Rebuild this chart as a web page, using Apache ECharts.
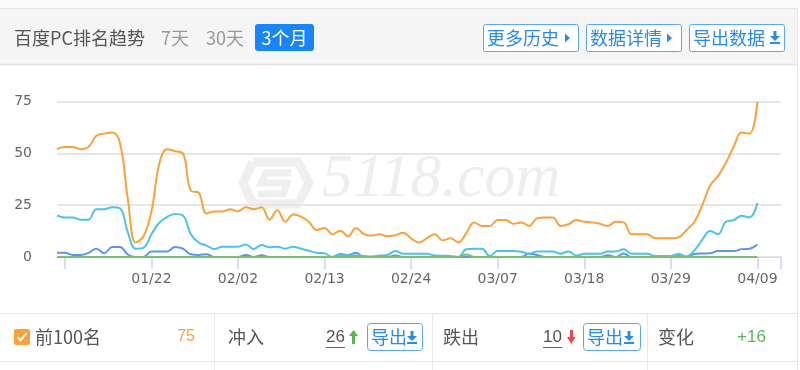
<!DOCTYPE html>
<html><head><meta charset="utf-8">
<script src="https://cdn.jsdelivr.net/npm/echarts@6/dist/echarts.min.js"></script>
<style>html,body{margin:0;padding:0;background:#fff}#c{width:800px;height:370px}</style>
</head><body><div id="c"></div>
<script>
// ---- data ----
const categories = [
'01/10','01/11','01/12','01/13','01/14','01/15','01/16','01/17','01/18','01/19','01/20','01/21','01/22','01/23','01/24','01/25','01/26','01/27','01/28','01/29','01/30','01/31',
'02/01','02/02','02/03','02/04','02/05','02/06','02/07','02/08','02/09','02/10','02/11','02/12','02/13','02/14','02/15','02/16','02/17','02/18','02/19','02/20','02/21','02/22','02/23','02/24','02/25','02/26','02/27','02/28',
'03/01','03/02','03/03','03/04','03/05','03/06','03/07','03/08','03/09','03/10','03/11','03/12','03/13','03/14','03/15','03/16','03/17','03/18','03/19','03/20','03/21','03/22','03/23','03/24','03/25','03/26','03/27','03/28','03/29','03/30','03/31',
'04/01','04/02','04/03','04/04','04/05','04/06','04/07','04/08','04/09','04/10','04/11','04/12'];
const xTickLabels = ['01/22','02/02','02/13','02/24','03/07','03/18','03/29','04/09'];
const yTicks = [0, 25, 50, 75];
const top100 = [52,53,53,52,53,58.5,59.5,60,55,28, 7,10,22,45,52,51,50,32,31,21,
  22,22,23,22,24,23,24,18,22.5,17, 20.5,19.5,17,13,14,11,12.7,10,14,11,
  10.3,11,10,10.5,11.7,9,7,9,11,8, 9,7,11.5,16.7,15,15,17.8,17.8,16,16.7,
  15,18.7,19,19,15,15.8,17.8,17,16.7,16, 15,17,16.7,11,11,11,9,9,9,9.5,
  13,17,25,34.5,39,45.5,53.3,60,59.5,75];
const top50 = [20,19,19,18,18,23,23,24,23.5,12, 4,4.5,11,16.5,19.4,20.7,20,11,7,5.5,
  3.8,5,5,5,6,3.8,5.8,4.7,5,4, 5,4,3,2,1.8,0,1,0.8,0.7,0.5,
  0.3,0.7,1,2.9,1.6,1.6,1.6,1.6,0.7,0.6, 0.5,0,3.7,4,4,0.5,2.9,2.9,2.9,2.5,
  1.6,2.7,2.7,2.7,1.6,2.7,0.6,1.6,1.6,1.6, 2.7,2.7,3.7,1.6,1.6,1.6,0.5,0.5,0.5,1.4,
  0.3,3.2,8.4,12.5,11,17,17.8,19.9,19.1,26];
const top20 = [2,2,1,1,2,4,1.8,4.8,4.8,1.2, 0,0,2.7,2.7,2.7,4.8,4,1.3,1,1.3,
  0,0,0,0,1,0,0.8,0,0,0, 0,0,0,0,0,0,1.5,1,2,0,
  0,0,0,0.7,0,0,0,0,0,0, 0,0,0,0,0,0,0,0,0,0,
  1.6,1,0,0,0,0,0,0,0,0, 0.8,0,1.7,0,0,0,0,0,0,0.5,
  0,1.5,1.7,1.8,2.9,2.9,2.9,3.8,4,6];
const top10 = [0,0,0,0,0,0,0,0,0,0, 0,0,0,0,0,0,0,0,0,0,
  0,0,0,0,0,0,0,0,0,0, 0,0,0,0,0,0,0,0,0,0,
  0,0,0,0,0,0,0,0,0,0, 0,0,1.2,0,0,0,0,0,0,0,
  0,0,0,0,0,0,0,0,0,0, 0,0,0,0,0,0,0,0,0,0,
  0,0,0,0,0,0,0,0,0,0];

const CJK = "'Microsoft YaHei','Noto Sans CJK SC',sans-serif";
const NUM = "'Liberation Sans',Arial,sans-serif";
const BLUE = '#2b8ae6';

function txt(x, y, s, size, color, font, align, extra) {
  return Object.assign({type:'text', x:x, y:y, z:100, silent:true,
    style:{text:s, font: size+'px '+(font||CJK), fill:color, align:align||'left', verticalAlign:'middle',
      textAlign:align||'left', textVerticalAlign:'middle'}}, extra||{});
}
function rect(x,y,w,h,fill,stroke,r,z){
  return {type:'rect', z:z||99, silent:true, shape:{x:x,y:y,width:w,height:h,r:r||0},
    style:{fill:fill||'none', stroke:stroke||null, lineWidth:1}};
}
function line(x1,y1,x2,y2,color,w,z){
  return {type:'line', z:z||99, silent:true, shape:{x1:x1,y1:y1,x2:x2,y2:y2}, style:{stroke:color, lineWidth:w||1}};
}
function poly(points, fill, z){
  return {type:'polygon', z:z||100, silent:true, shape:{points:points}, style:{fill:fill}};
}
function dlIcon(x, y, color){ // x,y top-left, ~10x12
  return [
    rect(x+3.5, y, 3, 5, color, null, 0, 100),
    poly([[x,y+5],[x+10,y+5],[x+5,y+10]], color),
    rect(x, y+11, 10, 2, color, null, 0, 100)
  ];
}
function arrowRight(x, y, color){
  return poly([[x,y],[x+5,y+4.5],[x,y+9]], color);
}

const graphics = [
  // header
  rect(0,0,800,8,'#fbfbfb',null,0,1),
  rect(0,8.5,797,56,'#f5f5f5',null,0,1),
  line(0,8.5,797,8.5,'#e4e4e4',1,2),
  line(0,64.5,797,64.5,'#e3e3e3',1.5,2),
  line(797.5,8,797.5,370,'#e6e6e6',1,2),
  txt(14,38,'百度PC排名趋势',18,'#555'),
  txt(161,38,'7天',18,'#999'),
  txt(206,38,'30天',18,'#999'),
  rect(255,24,59,27,'#1a86f5',null,3,99),
  txt(284.5,38,'3个月',18,'#fff',CJK,'center'),
  rect(483.5,24.5,95,27,'#fff','#5aa6f2',2,99),
  txt(487,38,'更多历史',18,BLUE),
  arrowRight(565,33.5,BLUE),
  rect(586.5,24.5,95,27,'#fff','#5aa6f2',2,99),
  txt(590,38,'数据详情',18,BLUE),
  arrowRight(667,33.5,BLUE),
  rect(689.5,24.5,95,27,'#fff','#5aa6f2',2,99),
  txt(693,38,'导出数据',18,BLUE),
  ...dlIcon(770,31,BLUE),
  // watermark
  {type:'polyline', z:0, silent:true, shape:{points:[[253,162],[298,162],[309,183],[298,204],[253,204],[243,183],[253,162]]},
    style:{stroke:'#efefef', lineWidth:9, fill:'none', lineJoin:'round'}},
  {type:'polyline', z:0, silent:true, shape:{points:[[291,173],[266,173],[261,183],[287,183],[283,194],[258,194]]},
    style:{stroke:'#efefef', lineWidth:7, fill:'none'}},
  {type:'text', z:0, silent:true, x:322, y:180,
    style:{text:'5118.com', font:"italic 62px 'Liberation Serif',serif", fill:'#eeeeee', verticalAlign:'middle', textVerticalAlign:'middle'}},
  // bottom table
  line(0,313.5,797,313.5,'#e8e8e8',1),
  line(0,361.5,797,361.5,'#e8e8e8',1),
  line(214.5,313,214.5,370,'#e8e8e8',1),
  line(432.5,313,432.5,370,'#e8e8e8',1),
  line(647.5,313,647.5,370,'#e8e8e8',1),
  rect(14,329,16,16,'#f7a23a',null,2,99),
  {type:'polyline', z:100, silent:true, shape:{points:[[17.5,337],[20.5,340.5],[26.5,333]]}, style:{stroke:'#fff', lineWidth:2, fill:'none'}},
  txt(35,337,'前100名',18,'#555'),
  txt(195,337,'75',16,'#f7a23a',NUM,'right'),
  txt(228,337,'冲入',18,'#555'),
  txt(345,337,'26',17,'#555',NUM,'right'),
  line(326,347.5,345,347.5,'#666',1,100),
  poly([[349,336],[353.5,330],[358,336]],'#52b852'),
  rect(352,335,3,9,'#52b852',null,0,100),
  rect(367.5,323.5,55,27,'#fff','#5aa6f2',3,99),
  txt(371,337,'导出',18,BLUE),
  ...dlIcon(407,331,BLUE),
  txt(443,337,'跌出',18,'#555'),
  txt(562,337,'10',17,'#555',NUM,'right'),
  line(543,347.5,562,347.5,'#666',1,100),
  rect(570,330,3,8,'#f04848',null,0,100),
  poly([[567,337],[575.5,337],[571.25,344]],'#f04848'),
  rect(583.5,323.5,57,27,'#fff','#5aa6f2',3,99),
  txt(587,337,'导出',18,BLUE),
  ...dlIcon(624,331,BLUE),
  txt(658,337,'变化',18,'#555'),
  txt(737,337,'+16',17,'#5cb85c',NUM)
];

const chart = echarts.init(document.getElementById('c'), null, {renderer:'canvas'});
chart.setOption({
  animation:false,
  backgroundColor:'#fff',
  graphic: graphics,
  grid:{left:57, right:19, top:101.5, bottom:113},
  xAxis:{
    type:'category', data:categories, boundaryGap:false,
    axisLine:{show:true, lineStyle:{color:'#ccd6eb', width:1}},
    axisTick:{show:true, length:12, lineStyle:{color:'#ccd6eb', width:1.5},
      interval:function(i){ return i % 11 === 1 || i === categories.length - 1; }},
    axisLabel:{color:'#666', fontSize:14, fontFamily:"'DejaVu Sans',sans-serif", margin:15,
      interval:function(i, v){ return xTickLabels.indexOf(v) >= 0 && i < 90; }},
    splitLine:{show:false}
  },
  yAxis:{
    type:'value', min:yTicks[0], max:yTicks[yTicks.length-1], interval:yTicks[1]-yTicks[0],
    axisLine:{show:false}, axisTick:{show:false},
    axisLabel:{color:'#666', fontSize:14, fontFamily:"'DejaVu Sans',sans-serif", margin:25},
    splitLine:{lineStyle:{color:'#e6e6e6', width:2}}
  },
  series:[
    {name:'前20名', type:'line', data:top20, smooth:0.4, symbol:'none', lineStyle:{width:2, color:'#5b96f0'}, itemStyle:{color:'#5b96f0'}},
    {name:'前50名', type:'line', data:top50, smooth:0.4, symbol:'none', lineStyle:{width:2, color:'#4cc2ec'}, itemStyle:{color:'#4cc2ec'}},
    {name:'前10名', type:'line', data:top10, smooth:0.4, symbol:'none', lineStyle:{width:2, color:'#74c374'}, itemStyle:{color:'#74c374'}},
    {name:'前100名', type:'line', data:top100, smooth:0.4, symbol:'none', lineStyle:{width:2, color:'#f9a23a'}, itemStyle:{color:'#f9a23a'}}
  ]
});
</script></body></html>
